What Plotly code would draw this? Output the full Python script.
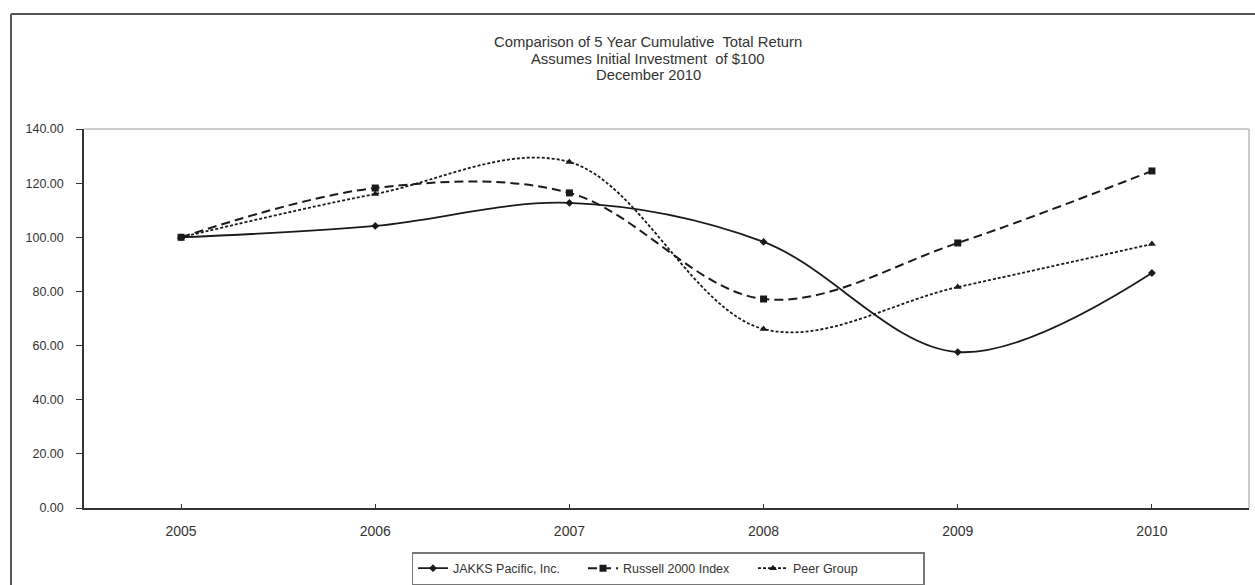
import plotly.graph_objects as go

years = ["2005", "2006", "2007", "2008", "2009", "2010"]
jakks = [100.00, 104.2, 112.7, 98.3, 57.6, 86.8]
russell = [100.00, 118.2, 116.4, 77.2, 97.9, 124.5]
peer = [100.00, 116.0, 127.8, 66.1, 81.6, 97.5]
ytick_vals = [0, 20, 40, 60, 80, 100, 120, 140]
ytick_text = ["0.00", "20.00", "40.00", "60.00", "80.00", "100.00", "120.00", "140.00"]
title_lines = ["Comparison of 5 Year Cumulative  Total Return",
               "Assumes Initial Investment  of $100",
               "December 2010"]

xpos = list(range(len(years)))
font = "Liberation Sans, Arial, sans-serif"
ink = "#1a1a1a"
txt = "#333333"

fig = go.Figure()
fig.add_trace(go.Scatter(
    x=xpos, y=jakks, name="JAKKS Pacific, Inc.", mode="lines+markers",
    line=dict(color=ink, width=1.8, shape="spline", smoothing=1.0),
    marker=dict(symbol="diamond", size=6, color=ink)))
fig.add_trace(go.Scatter(
    x=xpos, y=russell, name="Russell 2000 Index", mode="lines+markers",
    line=dict(color=ink, width=2, shape="spline", smoothing=1.0, dash="9px,5px"),
    marker=dict(symbol="square", size=7, color=ink)))
fig.add_trace(go.Scatter(
    x=xpos, y=peer, name="Peer Group", mode="lines+markers",
    line=dict(color=ink, width=1.8, shape="spline", smoothing=1.0, dash="3px,2px"),
    marker=dict(symbol="triangle-up", size=7, color=ink)))

W, H = 1255, 585
L, T = 84, 129
R = W - 1249
B = H - 508
pw, ph = W - L - R, H - T - B

def px(x):
    return (x - L) / pw

def py(y):
    return (H - B - y) / ph

annotations = []
for line, yy in zip(title_lines, [42, 58.5, 75]):
    annotations.append(dict(text=line, xref="paper", yref="paper", x=px(648), y=py(yy),
                            xanchor="center", yanchor="middle", showarrow=False,
                            font=dict(size=14.8, color=txt)))

fig.update_layout(
    width=W, height=H,
    margin=dict(l=L, r=R, t=T, b=B, autoexpand=False),
    paper_bgcolor="white", plot_bgcolor="white",
    font=dict(family=font, size=12.5, color=txt),
    showlegend=True,
    legend=dict(orientation="h", x=px(668), xanchor="center", y=py(568.5), yanchor="middle",
                bordercolor="#777777", borderwidth=1.5, font=dict(size=12.5, color=txt),
                entrywidth=125, entrywidthmode="pixels", tracegroupgap=0),
    xaxis=dict(range=[-0.5, 5.5], tickvals=xpos, ticktext=years, showgrid=False,
               zeroline=False, showline=True, linecolor=txt, linewidth=1.5,
               ticks="inside", ticklen=4, tickcolor=txt, ticklabelstandoff=9,
               tickfont=dict(size=14, color=txt)),
    yaxis=dict(range=[0, 140], tickvals=ytick_vals, ticktext=ytick_text, showgrid=False,
               zeroline=False, showline=True, linecolor=txt, linewidth=1.5,
               ticks="outside", ticklen=6, tickcolor=txt, ticklabelstandoff=10,
               tickfont=dict(size=12.5, color=txt)),
    shapes=[
        dict(type="line", xref="paper", yref="paper", x0=0, x1=1, y0=1, y1=1,
             line=dict(color="#bbbbbb", width=1.5)),
        dict(type="line", xref="paper", yref="paper", x0=1, x1=1, y0=0, y1=1,
             line=dict(color="#bbbbbb", width=1.5)),
        # outer chart border (top and left edges visible)
        dict(type="line", xref="paper", yref="paper", x0=px(11), x1=px(1255), y0=py(14), y1=py(14),
             line=dict(color="#555555", width=2)),
        dict(type="line", xref="paper", yref="paper", x0=px(11), x1=px(11), y0=py(14), y1=py(585),
             line=dict(color="#555555", width=2)),
    ],
    annotations=annotations,
)

fig.write_html("out.html",
               config={"displayModeBar": False},
               post_script="document.body.style.margin='0';document.body.style.overflow='hidden';")
